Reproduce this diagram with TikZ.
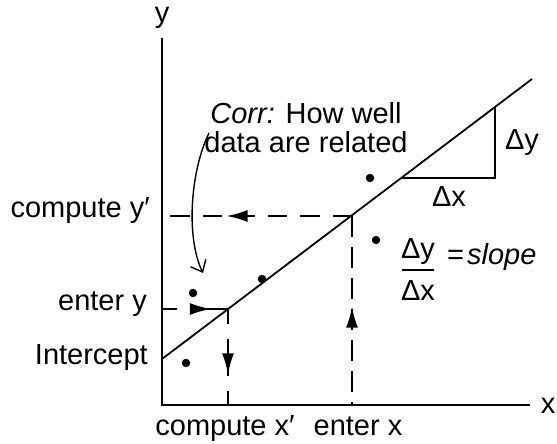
\documentclass[tikz,border=0pt]{standalone}
\usepackage{fontspec}
\setmainfont{Liberation Sans}
\usetikzlibrary{arrows.meta,decorations.markings}
\begin{document}
\begin{tikzpicture}[x=1pt,y=-1pt,
  font=\fontsize{29}{29}\selectfont,
  axisline/.style={line width=1.8pt},
  fitline/.style={line width=1.8pt},
  guide/.style={line width=1.8pt},
  dot/.style={circle, fill, inner sep=0pt, minimum size=8.5pt},
  lbl/.style={inner sep=0pt},
  midarrow/.style={postaction={decorate, decoration={markings,
      mark=at position #1 with {\arrow{Latex[length=21pt,width=12pt]}}}}},
  midarrowrev/.style={postaction={decorate, decoration={markings,
      mark=at position #1 with {\arrowreversed{Latex[length=21pt,width=12pt]}}}}},
]
\useasboundingbox (0,0) rectangle (557,444);

% coordinates
\coordinate (O) at (162,405);
\coordinate (ytop) at (162,38);
\coordinate (xend) at (530,405);
\coordinate (L0) at (162,359);
\coordinate (L1) at (532,79);
\coordinate (P) at (228,309);
\coordinate (Q) at (352,216);
\coordinate (Ya) at (162,309);
\coordinate (Yb) at (162,216);
\coordinate (Xa) at (228,405);
\coordinate (Xb) at (352,405);
\coordinate (T1) at (401,178);
\coordinate (T2) at (495,178);
\coordinate (T3) at (495,107);
\coordinate (cs) at (209,133);
\coordinate (ce) at (203,273);

% axes
\draw[axisline] (ytop) -- (O) -- (xend);
% fitted line
\draw[fitline] (L0) -- (L1);
% slope triangle
\draw[fitline] (T1) -- (T2) -- (T3);

% guides
\draw[guide, dash pattern=on 15pt off 16pt on 60pt off 0pt, midarrow=0.74] (Ya) -- (P);
\draw[guide, dash pattern=on 19pt off 13pt on 20pt off 13pt, midarrow=0.66] (Q) -- (Yb);
\draw[guide, dash pattern=on 15pt off 15pt on 37pt off 15pt on 40pt off 0pt, midarrow=0.68] (P) -- (Xa);
\draw[guide, dash pattern=on 21pt off 10pt, midarrowrev=0.48] (Q) -- (Xb);

% correlation arrow
\draw[line width=1.4pt, -{Straight Barb[length=10pt,width=17pt]}] (cs) .. controls (190,172) and (186,238) .. (ce);

% data points
\node[dot] (d1) at (370,178) {};
\node[dot] (d2) at (376,240) {};
\node[dot] (d3) at (262,279) {};
\node[dot] (d4) at (193,293) {};
\node[dot] (d5) at (186,363) {};

% labels
\node[lbl] (ylab) at (162,18) {y};
\node[lbl] (xlab) at (548,406) {x};
\node[lbl, anchor=mid east] (cyp) at (150,215) {compute y′};
\node[lbl, anchor=mid east] (ey) at (147,308) {enter y};
\node[lbl, anchor=mid east] (icpt) at (148,362) {Intercept};
\node[lbl, anchor=mid] (cxp) at (225,433) {compute x′};
\node[lbl, anchor=mid] (ex) at (358,433) {enter x};
\node[lbl, align=center] (corr) at (306,128) {\textit{Corr:} How well\\data are related};
\node[lbl] (dy) at (522,143) {Δy};
\node[lbl] (dx) at (449,197) {Δx};
\node[lbl] (fdy) at (418,252) {Δy};
\node[lbl] (fdx) at (418,291) {Δx};
\coordinate (fb1) at (402,270);
\coordinate (fb2) at (434,270);
\draw[line width=1.4pt] (fb1) -- (fb2);
\node[lbl, anchor=mid west] (slope) at (447,262) {=\kern3pt\textit{slope}};
\end{tikzpicture}
\end{document}
